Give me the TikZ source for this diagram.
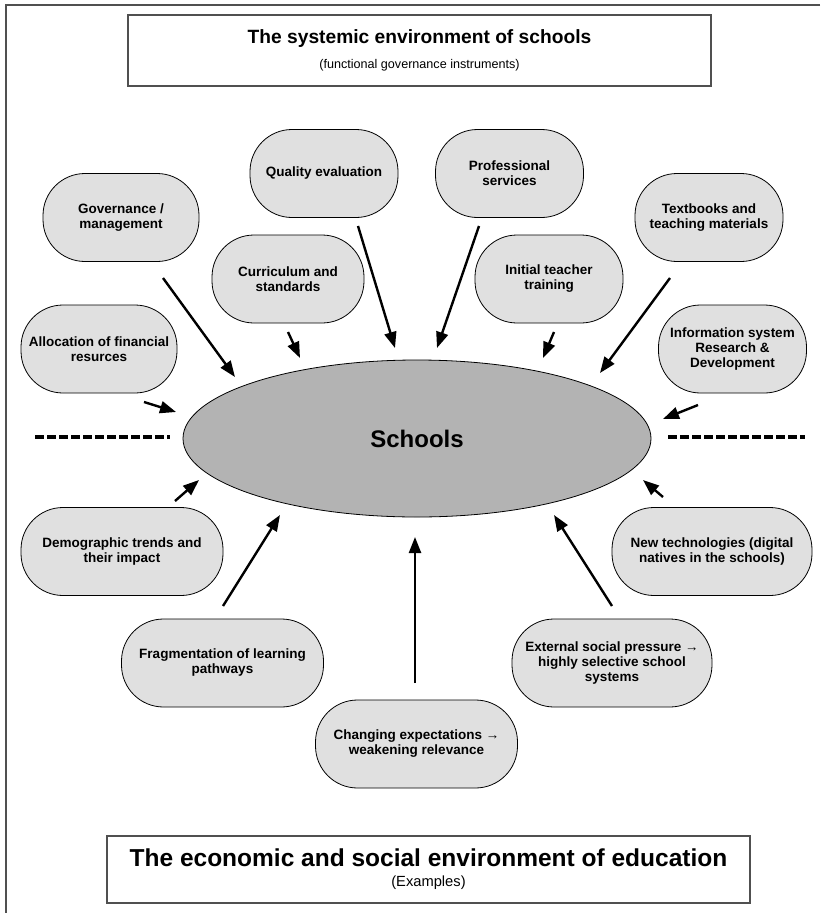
\documentclass[tikz,border=0pt]{standalone}
\usepackage{fontspec}
\setmainfont{Liberation Sans}
\usepackage{tikz}
\usetikzlibrary{arrows.meta,positioning,calc,shapes.geometric}
\definecolor{pillgray}{HTML}{E0E0E0}
\definecolor{schoolgray}{HTML}{B3B3B3}
\definecolor{framegray}{HTML}{505050}
\tikzset{
  >={Triangle[length=16pt,width=12pt]},
  every picture/.append style={line width=0.8pt},
}

\begin{document}
\begin{tikzpicture}[
  x=1pt, y=-1pt,
  factor/.style={rectangle, draw=black, line width=0.8pt, fill=pillgray, rounded corners=42pt, align=center, inner sep=2pt, minimum width=148pt, minimum height=88pt, font=\fontsize{13.5}{15}\selectfont\bfseries},
  wideFactor/.style={factor, minimum width=202pt},
  core/.style={ellipse, draw=black, line width=0.8pt, fill=schoolgray, inner sep=0pt, minimum width=468pt, minimum height=157pt, font=\fontsize{24}{28}\selectfont\bfseries},
  titleBox/.style={rectangle, draw=framegray, line width=1.5pt, align=center, inner sep=0pt},
  arrow/.style={->, line width=2.4pt, color=black},
  divider/.style={line width=3.5pt, dash pattern=on 8.5pt off 3.5pt}
]
\useasboundingbox (0,0) rectangle (820,913);

% Outer frame
\draw[framegray, line width=2pt] (820,5) -- (6,5) -- (6,913);

% Headings
\node[titleBox, minimum width=583pt, minimum height=71pt, font=\fontsize{12.6}{24.5}\selectfont] (systemic) at (419.5,50.5)
  {\fontsize{19.2}{24}\selectfont\bfseries The systemic environment of schools\\
   (functional governance instruments)};
\node[titleBox, minimum width=643pt, minimum height=67pt, font=\fontsize{14.7}{20}\selectfont] (economic) at (428.5,869.5)
  {\fontsize{24.5}{24}\selectfont\bfseries The economic and social environment of education\\
   (Examples)};

% Schools (centre)
\node[core] (schools) at (417,438.5) {Schools};

% Functional governance instruments (top)
\node[factor, minimum width=156pt] (governance) at (121,217.5) {Governance /\\management};
\node[factor] (quality) at (324,173.5) {Quality evaluation};
\node[factor, minimum width=152pt] (curriculum) at (288,279) {Curriculum and\\standards};
\node[factor, minimum width=156pt] (allocation) at (99,349) {Allocation of financial\\resurces};
\node[factor] (professional) at (509.5,173.5) {Professional\\services};
\node[factor] (teacher) at (549,279) {Initial teacher\\training};
\node[factor] (textbooks) at (709,217.5) {Textbooks and\\teaching materials};
\node[factor] (infosystem) at (732.5,349) {Information system\\Research \&\\Development};

% Economic and social environment (bottom)
\node[wideFactor] (demographic) at (122,551.5) {Demographic trends and\\their impact};
\node[wideFactor] (fragmentation) at (222.5,663) {Fragmentation of learning\\pathways};
\node[wideFactor] (expectations) at (416.5,744) {Changing expectations →\\weakening relevance};
\node[wideFactor, minimum width=200pt] (pressure) at (612,663) {External social pressure →\\highly selective school\\systems};
\node[wideFactor, minimum width=200pt] (technologies) at (712,551.5) {New technologies (digital\\natives in the schools)};

% Arrow ends
\coordinate (governanceOut) at (163,278);   \coordinate (governanceIn) at (235,377);
\coordinate (curriculumOut) at (288,332);   \coordinate (curriculumIn) at (300,358);
\coordinate (qualityOut) at (358,226);      \coordinate (qualityIn) at (395,348);
\coordinate (allocationOut) at (144,402);   \coordinate (allocationIn) at (176,412);
\coordinate (professionalOut) at (479,226); \coordinate (professionalIn) at (437,348);
\coordinate (teacherOut) at (554,332);      \coordinate (teacherIn) at (543,358);
\coordinate (textbooksOut) at (670,278);    \coordinate (textbooksIn) at (600,373);
\coordinate (infosystemOut) at (698,405);   \coordinate (infosystemIn) at (663,419);
\coordinate (demographicOut) at (175,501);  \coordinate (demographicIn) at (199,480);
\coordinate (fragmentationOut) at (223,606); \coordinate (fragmentationIn) at (280,515);
\coordinate (expectationsOut) at (415,683); \coordinate (expectationsIn) at (415,537);
\coordinate (pressureOut) at (612,606);     \coordinate (pressureIn) at (554,515);
\coordinate (technologiesOut) at (663,497); \coordinate (technologiesIn) at (643,480);

% Influences on schools
\draw[arrow] (governanceOut) -- (governanceIn);
\draw[arrow] (curriculumOut) -- (curriculumIn);
\draw[arrow] (qualityOut) -- (qualityIn);
\draw[arrow] (allocationOut) -- (allocationIn);
\draw[arrow] (professionalOut) -- (professionalIn);
\draw[arrow] (teacherOut) -- (teacherIn);
\draw[arrow] (textbooksOut) -- (textbooksIn);
\draw[arrow] (infosystemOut) -- (infosystemIn);
\draw[arrow] (demographicOut) -- (demographicIn);
\draw[arrow] (fragmentationOut) -- (fragmentationIn);
\draw[arrow] (expectationsOut) -- (expectationsIn);
\draw[arrow] (pressureOut) -- (pressureIn);
\draw[arrow] (technologiesOut) -- (technologiesIn);

% Dividing line
\coordinate (leftStart) at (35,437);  \coordinate (leftEnd) at ($(schools.west)+(-13,-1.5)$);
\coordinate (rightStart) at ($(schools.east)+(17,-1.5)$); \coordinate (rightEnd) at (805,437);
\draw[divider] (leftStart) -- (leftEnd);
\draw[divider] (rightStart) -- (rightEnd);

\end{tikzpicture}
\end{document}
